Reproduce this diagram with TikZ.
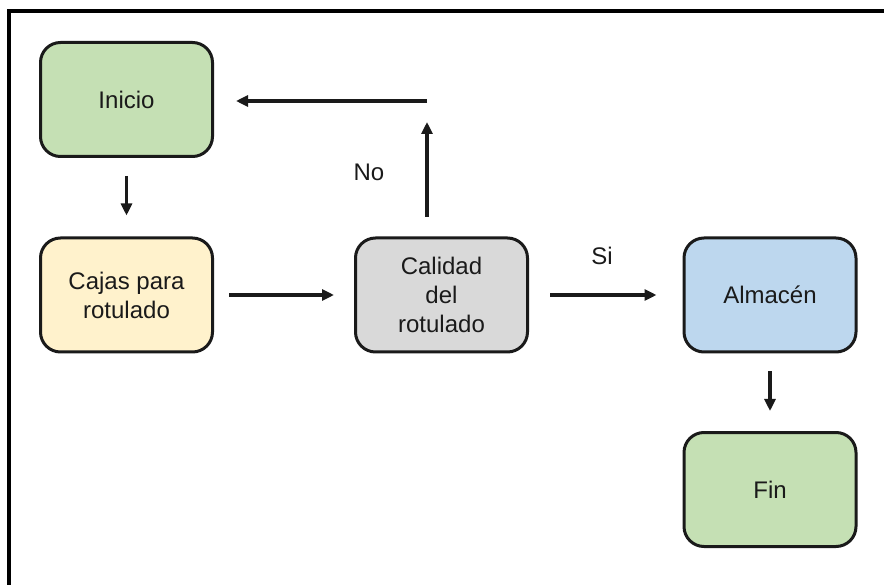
\documentclass[tikz,border=0pt]{standalone}
\usepackage{fontspec}
\setmainfont{Liberation Sans}
\usetikzlibrary{arrows.meta}
\definecolor{startgreen}{HTML}{C5E0B4}
\definecolor{inputyellow}{HTML}{FFF2CC}
\definecolor{checkgray}{HTML}{D9D9D9}
\definecolor{storeblue}{HTML}{BDD7EE}
\definecolor{ink}{HTML}{1A1A1A}
\tikzset{
  stepbox/.style={draw=ink, line width=3pt, rounded corners=20pt,
    minimum width=172pt, minimum height=114pt, align=center,
    font=\fontsize{24}{29}\selectfont, text=ink, inner sep=0pt},
  arr/.style={draw=ink, line width=3.2pt,
    -{Triangle[length=12pt,width=11pt]}},
  lbl/.style={font=\fontsize{24}{29}\selectfont, text=ink, inner sep=0pt},
}
\begin{document}
\begin{tikzpicture}[x=1pt,y=-1pt]
  \useasboundingbox (0,0) rectangle (884,585);
  % open frame: top and left edges only
  \draw[line width=4pt, black] (884,11.5) -- (9,11.5) -- (9,585);

  \node[stepbox, fill=startgreen]  (inicio)  at (126.5,99.5)  {Inicio};
  \node[stepbox, fill=inputyellow] (cajas)   at (126.5,295)   {Cajas para\\rotulado};
  \node[stepbox, fill=checkgray]   (calidad) at (441.5,295)   {Calidad\\del\\rotulado};
  \node[stepbox, fill=storeblue]   (almacen) at (770,295)     {Almacén};
  \node[stepbox, fill=startgreen]  (fin)     at (770,489.5)   {Fin};

  \draw[arr, shorten <=18pt, shorten >=21pt] (inicio) -- (cajas);
  \draw[arr, shorten <=15pt, shorten >=20pt] (cajas) -- (calidad);
  \draw[arr, shorten <=21pt, shorten >=26pt] (calidad) -- (almacen);
  \draw[arr, shorten <=18pt, shorten >=20pt] (almacen) -- (fin);

  % rejection loop back to the start
  \coordinate (noStart) at (427,217);
  \coordinate (noEnd)   at (427,122);
  \coordinate (turn)    at (427,101);
  \draw[arr] (noStart) -- (noEnd);
  \draw[arr, shorten >=22pt] (turn) -- (turn -| inicio.east);

  \node[lbl] (no) at (369,172) {No};
  \node[lbl] (si) at (602,256) {Si};
\end{tikzpicture}
\end{document}
